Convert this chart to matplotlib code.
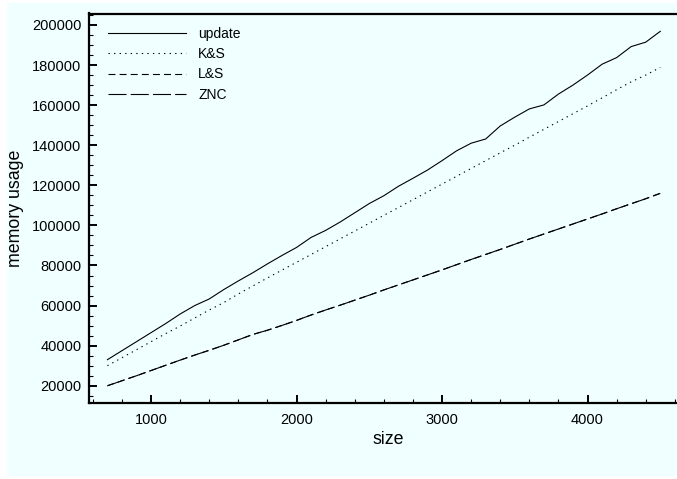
import matplotlib.pyplot as plt
from matplotlib.patches import Rectangle
from matplotlib.ticker import MultipleLocator

plt.rcParams["font.family"] = ["Liberation Sans", "DejaVu Sans"]

size = [700, 800, 900, 1000, 1100, 1200, 1300, 1400, 1500, 1600,
        1700, 1800, 1900, 2000, 2100, 2200, 2300, 2400, 2500, 2600,
        2700, 2800, 2900, 3000, 3100, 3200, 3300, 3400, 3500, 3600,
        3700, 3800, 3900, 4000, 4100, 4200, 4300, 4400, 4500]

update = [33000, 37500, 42000, 46500, 51000, 55800, 60000, 63300, 68000, 72300,
          76400, 80800, 85000, 89000, 94000, 97500, 101700, 106300, 110900, 114800,
          119500, 123500, 127600, 132300, 137200, 141000, 143100, 149600, 154000, 158100,
          160100, 165500, 170000, 175000, 180400, 183700, 189200, 191400, 196800]

ks = [30000, 34000, 38000, 42000, 46000, 49800, 53800, 57800, 61500, 65800,
      69800, 73800, 77700, 81600, 85500, 89400, 93300, 97200, 101100, 105000,
      108900, 112800, 116700, 120600, 124500, 128400, 132300, 136200, 140000, 144000,
      147900, 151800, 155700, 159600, 163600, 167700, 171600, 175000, 178800]

ls = [20000, 22500, 25000, 27600, 30200, 32800, 35300, 37700, 40200, 42900,
      45600, 47700, 50100, 52600, 55300, 57800, 60200, 62700, 65200, 67800,
      70300, 72800, 75300, 77800, 80400, 83000, 85500, 88000, 90600, 93200,
      95700, 98200, 100700, 103200, 105700, 108300, 110800, 113300, 116000]

znc = list(ls)

bg = "#f0ffff"

fig = plt.figure(figsize=(6.77, 4.79), dpi=100, facecolor="white")
fig.patches.append(Rectangle((7 / 677, 3 / 479), 1, 1 - 6 / 479,
                             transform=fig.transFigure, facecolor=bg,
                             edgecolor="none", zorder=-10))

# right spine sits just past the figure edge, like the original
ax = fig.add_axes([88.5 / 677, 76 / 479, 600 / 677, 389.5 / 479])
ax.set_facecolor(bg)

lw = 0.8
ax.plot(size, update, color="black", lw=lw, label="update")
ax.plot(size, ks, color="black", lw=lw, linestyle=(0, (1.2, 3.8)), label="K&S")
ax.plot(size, ls, color="black", lw=lw, linestyle=(0, (6.25, 3.75)), label="L&S")
ax.plot(size, znc, color="black", lw=lw, linestyle=(0, (16.25, 3.75)), label="ZNC")

ax.set_xlim(570, 4694)
ax.set_ylim(11400, 205700)
ax.xaxis.set_major_locator(MultipleLocator(1000))
ax.xaxis.set_minor_locator(MultipleLocator(200))
ax.yaxis.set_major_locator(MultipleLocator(20000))
ax.yaxis.set_minor_locator(MultipleLocator(5000))

for s in ax.spines.values():
    s.set_linewidth(1.6)
ax.tick_params(which="both", direction="in", top=False, right=False)
ax.tick_params(which="major", length=6, width=1.4, labelsize=10.5)
ax.tick_params(axis="y", which="major", pad=5)
ax.tick_params(axis="x", which="major", pad=7)
ax.tick_params(which="minor", length=3, width=0.8)

ax.set_xlabel("size", fontsize=12.8, labelpad=3)
ax.set_ylabel("memory usage", fontsize=12.8, labelpad=6)

ax.legend(loc="upper left", bbox_to_anchor=(108 / 677, 1 - 27 / 479),
          bbox_transform=fig.transFigure, frameon=False, fontsize=10,
          handlelength=5.6, handletextpad=0.9, labelspacing=0.45,
          borderpad=0, borderaxespad=0)

fig.savefig("out.png", dpi=100, facecolor=fig.get_facecolor())
